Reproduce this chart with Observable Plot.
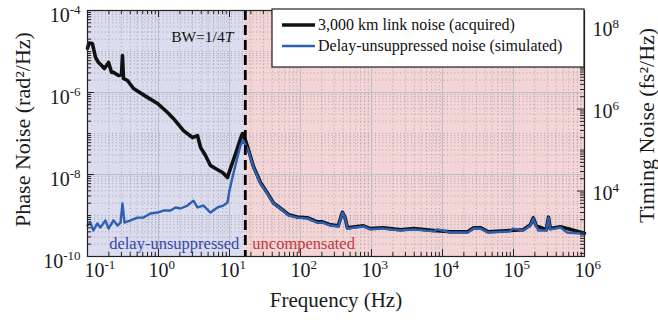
<!DOCTYPE html>
<html><head><meta charset="utf-8">
<script src="https://cdn.jsdelivr.net/npm/d3@7"></script>
<script src="https://cdn.jsdelivr.net/npm/@observablehq/plot@0.6"></script>
<style>html,body{margin:0;padding:0;background:#fff;} svg{display:block}</style>
</head><body><div id="chart"></div>
<script>
// ---- data ----
const blackFreq = [0.1,0.105,0.117,0.13,0.143,0.157,0.173,0.198,0.218,0.232,0.274,0.301,0.311,0.321,0.366,0.445,0.70,0.97,1.34,1.63,2.25,3.01,3.54,3.91,4.59,5.4,6.35,7.97,9.37,10.3,12.2,14.3,15.2,16.8,18.5,21.8,27.4,34.3,41.7,52.2,67.8,90.7,125,172,204,266,340,389,426,457,594,770,970,1470,2580,3920,7500,12900,22600,27500,34600,44000,89000,137000,172000,190000,210000,290000,311000,330000,460000,1000000];
const blackNoise = [1.2e-5,1.6e-5,1.57e-5,7.1e-6,5.4e-6,4.6e-6,3.85e-6,5.4e-6,3.1e-6,3.1e-6,2.6e-6,2.7e-6,8.0e-6,2.2e-6,1.96e-6,1.25e-6,7.6e-7,5.4e-7,3.25e-7,2.3e-7,1.18e-7,8.0e-8,8.9e-8,4.6e-8,2.9e-8,1.66e-8,1.4e-8,1.12e-8,8.5e-9,1.4e-8,3.25e-8,7.5e-8,1.0e-7,6.8e-8,4.0e-8,1.55e-8,6.3e-9,3.5e-9,2.0e-9,1.5e-9,1.05e-9,9.2e-10,8.8e-10,7.0e-10,7.0e-10,5.9e-10,5.6e-10,1.2e-9,8.7e-10,5.0e-10,5.3e-10,5.6e-10,4.8e-10,5.0e-10,4.5e-10,4.8e-10,4.3e-10,4.0e-10,4.0e-10,5.0e-10,5.0e-10,4.0e-10,4.3e-10,4.5e-10,5.9e-10,8.7e-10,5.6e-10,4.5e-10,9.1e-10,4.8e-10,5.3e-10,3.7e-10];
const blueFreq = [0.1,0.11,0.121,0.138,0.152,0.179,0.198,0.232,0.264,0.292,0.311,0.332,0.404,0.506,0.615,0.77,0.967,1.18,1.48,1.74,2.04,2.56,3.11,3.54,4.3,5.4,6.77,8.2,9.37,10.0,11.0,12.9,14.3,15.6,18.5,21.8,27.4,34.3,41.7,52.2,67.8,90.7,125,172,204,266,340,389,426,457,594,770,970,1470,2580,3920,7500,8500,12900,22600,27500,34600,44000,89000,98000,137000,172000,190000,210000,223000,290000,311000,330000,460000,570000,1000000];
const blueNoise = [5.7e-10,6.7e-10,4.3e-10,6.4e-10,5.1e-10,7.6e-10,4.8e-10,7.6e-10,5.7e-10,6.7e-10,1.96e-9,6.7e-10,7.6e-10,8.9e-10,8.9e-10,1.12e-9,1.18e-9,1.32e-9,1.32e-9,1.57e-9,1.48e-9,1.75e-9,2.3e-9,1.57e-9,1.75e-9,1.18e-9,1.57e-9,1.75e-9,2.07e-9,4.1e-9,8.5e-9,2.6e-8,5.1e-8,6.7e-8,3.85e-8,1.48e-8,6.0e-9,3.4e-9,1.96e-9,1.48e-9,1.0e-9,8.9e-10,8.5e-10,6.7e-10,6.7e-10,5.7e-10,5.4e-10,1.18e-9,8.5e-10,4.8e-10,5.1e-10,5.4e-10,4.6e-10,4.8e-10,4.3e-10,4.6e-10,4.1e-10,4.6e-10,3.85e-10,3.85e-10,4.8e-10,4.8e-10,3.85e-10,4.1e-10,4.8e-10,4.3e-10,5.7e-10,8.5e-10,5.4e-10,4.3e-10,4.3e-10,8.9e-10,4.6e-10,5.1e-10,3.85e-10,3.6e-10];
const bwFreq = 16.7;              // BW = 1/4T
const carrierHz = 100e6;          // phase <-> timing conversion
const xDomain = [0.1, 1e6];
const yDomain = [1e-10, 1e-4];
const xTickValues = [0.1, 1, 10, 100, 1e3, 1e4, 1e5, 1e6];
const yTickValues = [1e-10, 1e-8, 1e-6, 1e-4];
const timingTickValues = [1e4, 1e6, 1e8];
const seriesNames = ["3,000 km link noise (acquired)", "Delay-unsuppressed noise (simulated)"];
const regionNames = ["delay-unsuppressed", "uncompensated"];

// ---- tables ----
const black = blackFreq.map((f, i) => ({f, v: blackNoise[i]}));
const blue = blueFreq.map((f, i) => ({f, v: blueNoise[i]}));
const phasePerFs2 = Math.pow(2 * Math.PI * carrierHz, 2) * 1e-30;

// minor tick/grid positions
const xMinor = [];
for (let n = -1; n < 6; n++) for (let k = 2; k < 10; k++) xMinor.push(k * Math.pow(10, n));
const yMinor = [];
for (let n = -10; n < -4; n++) for (let k = 1; k < 10; k++) {
  const v = k * Math.pow(10, n);
  if (!(k === 1 && yTickValues.some(t => Math.abs(Math.log10(t) - n) < 1e-9))) yMinor.push(v);
}
const tMinor = [];
for (let n = 2; n < 9; n++) for (let k = 1; k < 10; k++) {
  const v = k * Math.pow(10, n) * phasePerFs2;
  if (v >= yDomain[0] && v <= yDomain[1] && !(k === 1 && timingTickValues.includes(Math.pow(10, n)))) tMinor.push(v);
}
const tMajor = timingTickValues.map(t => t * phasePerFs2);

const W = 658, H = 320, mL = 87, mR = 74, mT = 10, mB = 64;
const iw = W - mL - mR, ih = H - mT - mB;
const serif = "'Liberation Serif', 'Times New Roman', serif";
const pow = d => "10^" + Math.round(Math.log10(d));

const chart = Plot.plot({
  width: W, height: H,
  marginLeft: mL, marginRight: mR, marginTop: mT, marginBottom: mB,
  x: {type: "log", domain: xDomain, axis: null},
  y: {type: "log", domain: yDomain, axis: null},
  style: {fontFamily: serif, fontSize: "20px", background: "white", color: "#1a1a1a"},
  marks: [
    Plot.rect([regionNames[0]], {x1: xDomain[0], x2: bwFreq, y1: yDomain[0], y2: yDomain[1], fill: "#dcdcef"}),
    Plot.rect([regionNames[1]], {x1: bwFreq, x2: xDomain[1], y1: yDomain[0], y2: yDomain[1], fill: "#f4d5d6"}),
    Plot.ruleX(xMinor, {x: d => d, stroke: "#8a8a95", strokeOpacity: 0.75, strokeWidth: 0.9, strokeDasharray: "1,2.6"}),
    Plot.ruleY(yMinor, {y: d => d, stroke: "#8a8a95", strokeOpacity: 0.75, strokeWidth: 0.9, strokeDasharray: "1,2.6"}),
    Plot.ruleX(xTickValues, {x: d => d, stroke: "#bdbdc8", strokeWidth: 1}),
    Plot.ruleY(yTickValues, {y: d => d, stroke: "#bdbdc8", strokeWidth: 1}),
    Plot.line(black, {x: "f", y: "v", stroke: "#111", strokeWidth: 3.6, strokeLinejoin: "round"}),
    Plot.line(blue, {x: "f", y: "v", stroke: "#2d5fb3", strokeWidth: 2.4, strokeLinejoin: "round"}),
    Plot.ruleX([bwFreq], {x: d => d, stroke: "#000", strokeWidth: 2.8, strokeDasharray: "10,5"}),
    Plot.frame({stroke: "#222", strokeWidth: 1.2}),
    // inward ticks
    Plot.tickX(xTickValues, {x: d => d, insetTop: ih - 7, stroke: "#222"}),
    Plot.tickX(xMinor, {x: d => d, insetTop: ih - 4, stroke: "#222"}),
    Plot.tickX(xTickValues, {x: d => d, insetBottom: ih - 7, stroke: "#222"}),
    Plot.tickX(xMinor, {x: d => d, insetBottom: ih - 4, stroke: "#222"}),
    Plot.tickY(yTickValues, {y: d => d, insetRight: iw - 7, stroke: "#222"}),
    Plot.tickY(yMinor, {y: d => d, insetRight: iw - 4, stroke: "#222"}),
    Plot.tickY(tMajor, {y: d => d, insetLeft: iw - 7, stroke: "#222"}),
    Plot.tickY(tMinor, {y: d => d, insetLeft: iw - 4, stroke: "#222"}),
    // tick labels
    Plot.text(xTickValues.filter(d => d < 1), {x: d => d, frameAnchor: "bottom", dy: 14, dx: -3, lineAnchor: "middle", textAnchor: "start", text: pow}),
    Plot.text(xTickValues.filter(d => d >= 1), {x: d => d, frameAnchor: "bottom", dy: 14, dx: -10, lineAnchor: "middle", textAnchor: "start", text: pow}),
    Plot.text(yTickValues, {y: d => d, frameAnchor: "left", dx: -7, dy: 5, lineAnchor: "middle", textAnchor: "end", text: pow}),
    Plot.text(tMajor, {y: d => d, frameAnchor: "right", dx: 8, dy: 3, lineAnchor: "middle", textAnchor: "start", text: d => pow(d / phasePerFs2)}),
    // axis titles
    Plot.text(["Frequency (Hz)"], {frameAnchor: "bottom", dy: 44, fontSize: 21, lineAnchor: "middle", textAnchor: "middle", text: d => d}),
    Plot.text(["Phase Noise (rad²/Hz)"], {frameAnchor: "left", dx: -65, dy: -4, rotate: -90, textAnchor: "middle", fontSize: 22, text: d => d}),
    Plot.text(["Timing Noise (fs²/Hz)"], {frameAnchor: "right", dx: 62, dy: -8, rotate: -90, textAnchor: "middle", fontSize: 22, text: d => d}),
    // annotations
    Plot.text([bwFreq], {x: d => d, frameAnchor: "top", dy: 27, dx: -12, lineAnchor: "middle", textAnchor: "end", fontSize: 15.5, text: () => "BW=1/4T", fill: "#111"}),
    Plot.text([bwFreq], {x: d => d, frameAnchor: "bottom", dy: -13, dx: -6, lineAnchor: "middle", textAnchor: "end", fontSize: 16.5, text: () => regionNames[0], fill: "#3248a8"}),
    Plot.text([bwFreq], {x: d => d, frameAnchor: "bottom", dy: -13, dx: 7, lineAnchor: "middle", textAnchor: "start", fontSize: 16.5, text: () => regionNames[1], fill: "#c23a3c"})
  ]
});
document.getElementById("chart").appendChild(chart);

// superscript exponents in tick labels, italic T in the bandwidth note
const NS = "http://www.w3.org/2000/svg";
chart.querySelectorAll("text").forEach(t => {
  const s = t.textContent;
  const m = /^10\^(-?\d+)$/.exec(s);
  if (m) {
    t.textContent = "10";
    const sp = document.createElementNS(NS, "tspan");
    sp.setAttribute("dy", "-8");
    sp.style.fontSize = "13px";
    sp.textContent = m[1];
    t.appendChild(sp);
  } else if (s === "BW=1/4T") {
    t.textContent = "BW=1/4";
    const sp = document.createElementNS(NS, "tspan");
    sp.style.fontStyle = "italic";
    sp.textContent = "T";
    t.appendChild(sp);
  }
});

// legend
const svg = d3.select(chart);
const lg = svg.append("g").attr("font-family", serif).attr("font-size", 16).attr("text-anchor", "start");
const lx = 272, ly = 9, lw = W - mR - lx, lh = 58;
lg.append("rect").attr("x", lx).attr("y", ly).attr("width", lw).attr("height", lh)
  .attr("fill", "white").attr("stroke", "#222").attr("stroke-width", 1.2);
const legendStyles = [{stroke: "#111", w: 3.6}, {stroke: "#2d5fb3", w: 2.4}];
seriesNames.forEach((name, i) => {
  const y = ly + 16 + i * 21;
  lg.append("line").attr("x1", lx + 10).attr("x2", lx + 43).attr("y1", y).attr("y2", y)
    .attr("stroke", legendStyles[i].stroke).attr("stroke-width", legendStyles[i].w);
  lg.append("text").attr("x", lx + 46).attr("y", y).attr("dy", "0.32em").attr("text-anchor", "start").attr("fill", "#111").text(name);
});
</script>
</body></html>
